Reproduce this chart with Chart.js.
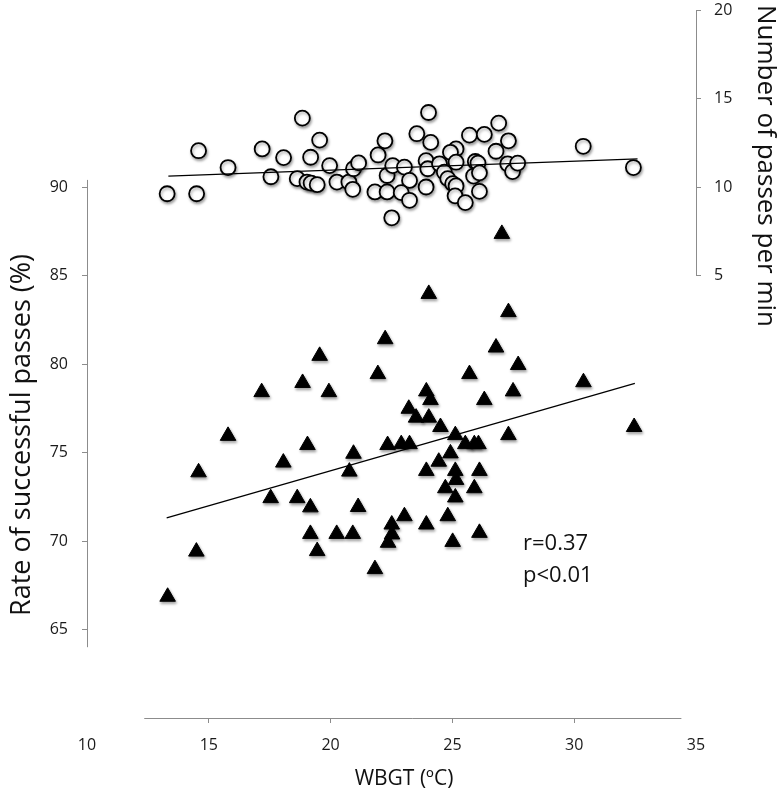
<!DOCTYPE html>
<html>
<head>
<meta charset="utf-8">
<script src="https://cdn.jsdelivr.net/npm/chart.js@4.4.1/dist/chart.umd.min.js"></script>
<style>
  html, body { margin: 0; padding: 0; background: #fff; }
  #wrap { width: 780px; height: 792px; }
</style>
</head>
<body>
<div id="wrap"><canvas id="passChart" width="780" height="792"></canvas></div>
<script>
// rate of successful passes (%) vs WBGT, one point per match
const rateWbgt = [
  13.31, 14.49, 14.58, 15.79, 17.17, 17.54, 18.06, 18.85, 18.63, 19.05,
  19.17, 19.17, 19.45, 19.55, 19.93, 20.25, 20.91, 20.77, 20.94, 21.13,
  21.82, 21.94, 22.24, 22.34, 22.51, 22.36, 22.52, 24.03, 27.30, 26.79,
  27.70, 25.70, 30.38, 23.93, 27.49, 24.10, 26.31, 23.21, 23.51, 24.03,
  24.51, 25.12, 22.90, 23.24, 25.53, 25.90, 26.07, 27.30, 32.46, 24.92,
  24.44, 23.93, 25.12, 26.11, 25.15, 24.71, 25.90, 25.12, 23.03, 24.81,
  23.93, 26.11, 25.01, 27.03
];
const rateValues = [
  66.85, 69.40, 73.88, 75.94, 78.41, 72.42, 74.43, 78.93, 72.42, 75.42,
  71.90, 70.40, 69.43, 80.46, 78.41, 70.40, 70.40, 73.92, 74.93, 71.92,
  68.41, 79.43, 81.40, 75.42, 70.93, 69.90, 70.37, 83.96, 82.93, 80.93,
  79.94, 79.43, 78.97, 78.45, 78.45, 77.96, 77.96, 77.47, 76.97, 76.97,
  76.44, 75.98, 75.47, 75.47, 75.47, 75.47, 75.47, 75.98, 76.44, 74.95,
  74.48, 73.96, 73.96, 73.96, 73.45, 72.98, 72.98, 72.46, 71.40, 71.40,
  70.93, 70.46, 69.95, 87.35
];

// number of passes per min vs WBGT
const passWbgt = [
  13.29, 14.50, 14.58, 15.79, 17.19, 17.55, 18.07, 18.84, 18.63, 19.03,
  19.20, 19.18, 19.45, 19.55, 19.96, 20.26, 20.75, 20.94, 21.15, 20.91,
  21.95, 22.23, 21.82, 22.32, 22.51, 22.32, 22.55, 24.02, 26.90, 23.54,
  24.11, 25.70, 26.31, 27.30, 30.37, 32.43, 26.79, 25.15, 24.92, 23.03,
  23.92, 23.99, 24.47, 23.24, 22.90, 23.24, 23.92, 24.67, 24.81, 25.01,
  25.15, 25.11, 25.53, 25.15, 25.94, 26.05, 25.87, 26.11, 26.11, 27.27,
  27.47, 27.68
];
const passValues = [
  9.62, 9.62, 12.05, 11.10, 12.15, 10.58, 11.66, 13.89, 10.47, 10.28,
  10.22, 11.68, 10.13, 12.65, 11.21, 10.28, 10.28, 11.03, 11.36, 9.87,
  11.81, 12.61, 9.72, 9.72, 8.26, 10.65, 11.21, 14.21, 13.61, 13.01,
  12.52, 12.93, 12.97, 12.61, 12.30, 11.10, 12.02, 12.15, 11.96, 11.12,
  11.49, 11.03, 11.31, 10.37, 9.68, 9.25, 10.00, 10.84, 10.47, 10.19,
  10.06, 9.50, 9.12, 11.40, 11.44, 11.35, 10.62, 10.80, 9.75, 11.31,
  10.87, 11.35
];

// regression lines (end points)
const rateFitX = [13.27, 32.49];
const rateFitY = [71.3, 78.9];
const passFitX = [13.34, 32.6];
const passFitY = [10.62, 11.59];

const xTicks = [10, 15, 20, 25, 30, 35];
const rateTicks = [65, 70, 75, 80, 85, 90];
const passTicks = [5, 10, 15, 20];

const FONT = "'Open Sans', sans-serif";
const AXIS_GREY = "#8c8c8c";

function toPoints(xs, ys) {
  return xs.map((x, i) => ({ x: x, y: ys[i] }));
}

function setTicks(list) {
  return function (scale) {
    scale.ticks = list.map((v) => ({ value: v }));
  };
}

// fixed box size, no extra room for half labels
function fixSize(w, h) {
  return function (scale) {
    if (w !== null) scale.width = w;
    if (h !== null) scale.height = h;
    scale.paddingTop = 0;
    scale.paddingBottom = 0;
    scale.paddingLeft = 0;
    scale.paddingRight = 0;
  };
}

function tickColor(lo, hi) {
  return function (ctx) {
    if (!ctx.tick) return "rgba(0,0,0,0)";
    const v = ctx.tick.value;
    return v >= lo && v <= hi ? AXIS_GREY : "rgba(0,0,0,0)";
  };
}

// soft drop shadow under the markers
const markerShadow = {
  id: "markerShadow",
  beforeDatasetDraw(chart, args) {
    if (args.index < 2) return;
    const ctx = chart.ctx;
    ctx.save();
    ctx.shadowColor = "rgba(0,0,0,0.35)";
    ctx.shadowBlur = 3;
    ctx.shadowOffsetX = 1;
    ctx.shadowOffsetY = 2;
  },
  afterDatasetDraw(chart, args) {
    if (args.index < 2) return;
    chart.ctx.restore();
  },
};

// partial axis lines + titles + r/p note
const axisDecor = {
  id: "axisDecor",
  beforeDatasetsDraw(chart) {
    const ctx = chart.ctx;
    const x = chart.scales.x;
    const yl = chart.scales.yRate;
    const yr = chart.scales.yPass;
    const area = chart.chartArea;
    ctx.save();
    ctx.strokeStyle = AXIS_GREY;
    ctx.lineWidth = 1;
    ctx.beginPath();
    const xb = Math.round(area.bottom) + 0.5;
    ctx.moveTo(x.getPixelForValue(12.35), xb);
    ctx.lineTo(x.getPixelForValue(34.4), xb);
    const xl = Math.round(area.left) + 0.5;
    ctx.moveTo(xl, yl.getPixelForValue(90.4));
    ctx.lineTo(xl, yl.getPixelForValue(64.0));
    const xr = Math.round(area.right) + 0.5;
    ctx.moveTo(xr, yr.getPixelForValue(20));
    ctx.lineTo(xr, yr.getPixelForValue(5));
    ctx.stroke();
    ctx.restore();
  },
  afterDraw(chart) {
    const ctx = chart.ctx;
    const x = chart.scales.x;
    const yl = chart.scales.yRate;
    ctx.save();
    ctx.fillStyle = "#111";
    ctx.textAlign = "center";
    ctx.textBaseline = "middle";

    ctx.font = "27px " + FONT;
    ctx.save();
    ctx.translate(22, 435);
    ctx.rotate(-Math.PI / 2);
    ctx.fillText("Rate of successful passes (%)", 0, 0);
    ctx.restore();

    ctx.font = "26px " + FONT;
    ctx.save();
    ctx.translate(765, 166);
    ctx.rotate(Math.PI / 2);
    ctx.fillText("Number of passes per min", 0, 0);
    ctx.restore();

    ctx.font = "21px " + FONT;
    ctx.fillText("WBGT (\u00baC)", 404, 779);

    ctx.font = "22px " + FONT;
    ctx.textAlign = "left";
    ctx.textBaseline = "alphabetic";
    const nx = x.getPixelForValue(27.9);
    ctx.fillText("r=0.37", nx, yl.getPixelForValue(69.5));
    ctx.fillText("p<0.01", nx, yl.getPixelForValue(67.7));
    ctx.restore();
  },
};

const ctx = document.getElementById("passChart").getContext("2d");
new Chart(ctx, {
  type: "scatter",
  data: {
    datasets: [
      {
        type: "line",
        data: toPoints(rateFitX, rateFitY),
        yAxisID: "yRate",
        borderColor: "#000",
        borderWidth: 1.3,
        pointRadius: 0,
        fill: false,
      },
      {
        type: "line",
        data: toPoints(passFitX, passFitY),
        yAxisID: "yPass",
        borderColor: "#000",
        borderWidth: 1.3,
        pointRadius: 0,
        fill: false,
      },
      {
        label: "Rate of successful passes",
        data: toPoints(rateWbgt, rateValues),
        yAxisID: "yRate",
        pointStyle: "triangle",
        pointRadius: 9,
        backgroundColor: "#000",
        borderColor: "#000",
        borderWidth: 1,
      },
      {
        label: "Number of passes per min",
        data: toPoints(passWbgt, passValues),
        yAxisID: "yPass",
        pointStyle: "circle",
        pointRadius: 7.5,
        backgroundColor: "#fff",
        borderColor: "#000",
        borderWidth: 1.8,
      },
    ],
  },
  options: {
    responsive: false,
    animation: false,
    layout: { padding: { top: 5, left: 0, right: 0, bottom: 0 } },
    plugins: {
      legend: { display: false },
      tooltip: { enabled: false },
    },
    scales: {
      x: {
        type: "linear",
        position: "bottom",
        min: 10,
        max: 35,
        afterBuildTicks: setTicks(xTicks),
        afterFit: fixSize(null, 74),
        border: { display: false },
        grid: {
          drawOnChartArea: false,
          drawTicks: true,
          tickLength: 5,
          color: tickColor(15, 30),
        },
        ticks: {
          padding: 13,
          autoSkip: false,
          maxRotation: 0,
          color: "#1a1a1a",
          font: { family: FONT, size: 16 },
        },
      },
      yRate: {
        type: "linear",
        position: "left",
        min: 60,
        max: 100,
        afterBuildTicks: setTicks(rateTicks),
        afterFit: fixSize(87, null),
        border: { display: false },
        grid: {
          drawOnChartArea: false,
          drawTicks: true,
          tickLength: 5,
          color: tickColor(65, 90),
        },
        ticks: {
          padding: 14,
          color: "#1a1a1a",
          font: { family: FONT, size: 16 },
        },
      },
      yPass: {
        type: "linear",
        position: "right",
        min: -20,
        max: 20,
        afterBuildTicks: setTicks(passTicks),
        afterFit: fixSize(84, null),
        border: { display: false },
        grid: {
          drawOnChartArea: false,
          drawTicks: true,
          tickLength: 5,
          color: tickColor(5, 20),
        },
        ticks: {
          padding: 13,
          color: "#1a1a1a",
          font: { family: FONT, size: 16 },
        },
      },
    },
  },
  plugins: [markerShadow, axisDecor],
});
</script>
</body>
</html>
